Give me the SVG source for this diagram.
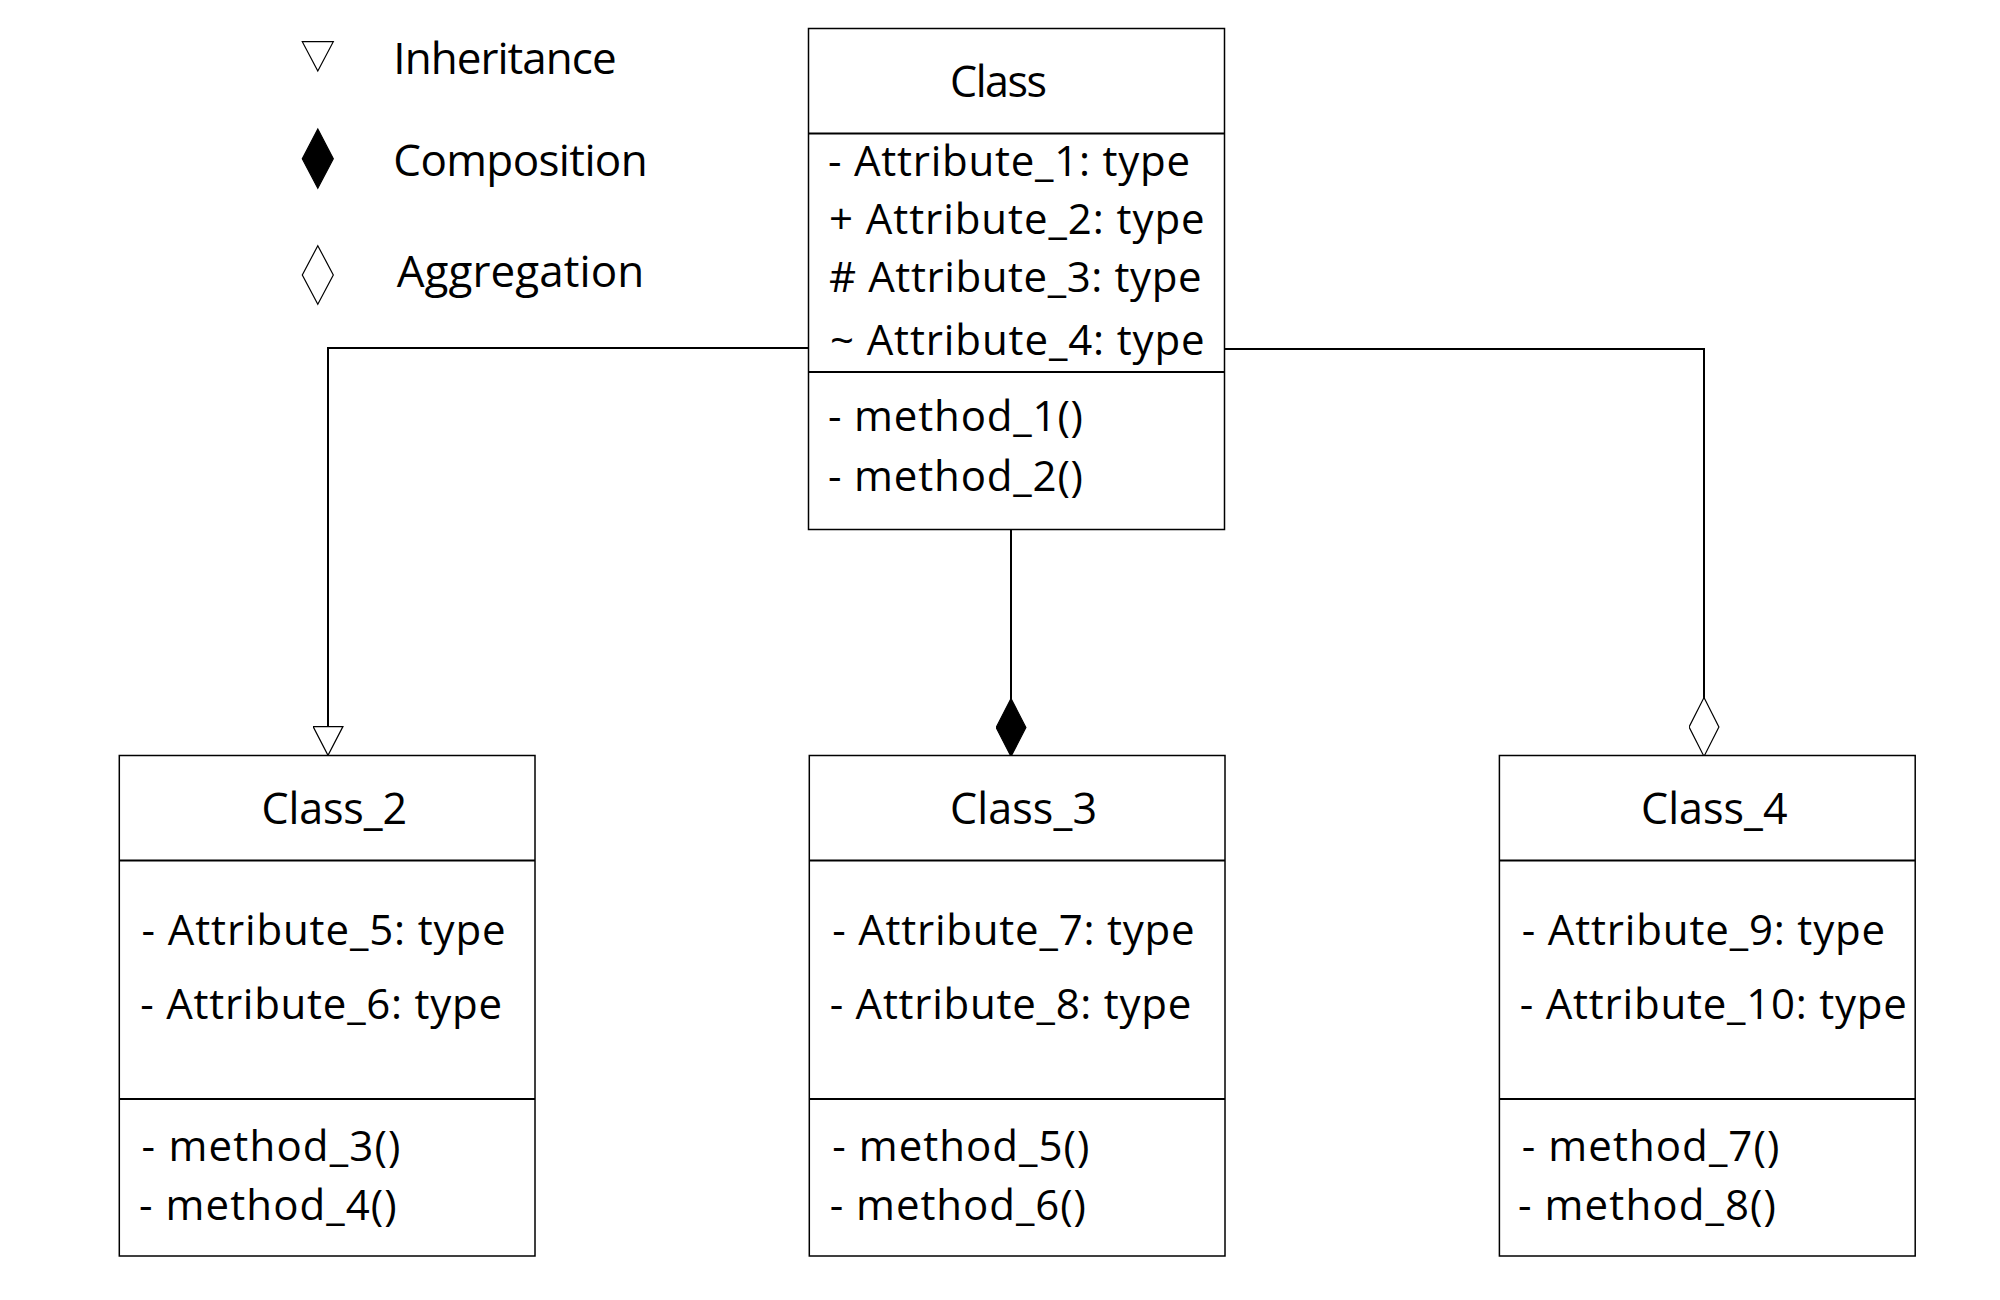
<svg xmlns="http://www.w3.org/2000/svg" width="2000" height="1300" viewBox="0 0 2000 1300">
  <style>
    .bg { fill: #ffffff; }
    .box { fill: #ffffff; stroke: #000000; stroke-width: 1.5; }
    .div { stroke: #000000; stroke-width: 2; }
    .conn { fill: none; stroke: #000000; stroke-width: 2; }
    .sym { stroke: #000000; stroke-width: 1.2; stroke-linejoin: miter; }
    .hollow { fill: #ffffff; }
    .solid { fill: #000000; }
    text { font-family: "Open Sans", "Noto Sans", "Liberation Sans", sans-serif; fill: #000000; }
    .legend { font-size: 44px; }
    .title { font-size: 43px; }
    .item { font-size: 42px; }
  </style>
  <defs>
    <marker id="m-inherit" viewBox="0 0 30 31" refX="30" refY="15.5" markerWidth="30" markerHeight="31" markerUnits="userSpaceOnUse" orient="auto">
      <path d="M0.6,0.6 L29.4,15.5 L0.6,30.4 Z" fill="#ffffff" stroke="#000000" stroke-width="1.2"/>
    </marker>
    <marker id="m-compose" viewBox="0 0 59 31" refX="59" refY="15.5" markerWidth="59" markerHeight="31" markerUnits="userSpaceOnUse" orient="auto">
      <path d="M0.6,15.5 L29.5,0.6 L58.4,15.5 L29.5,30.4 Z" fill="#000000" stroke="#000000" stroke-width="1.2"/>
    </marker>
    <marker id="m-aggregate" viewBox="0 0 60 31" refX="60" refY="15.5" markerWidth="60" markerHeight="31" markerUnits="userSpaceOnUse" orient="auto">
      <path d="M0.6,15.5 L30,0.6 L59.4,15.5 L30,30.4 Z" fill="#ffffff" stroke="#000000" stroke-width="1.2"/>
    </marker>
  </defs>

  <rect class="bg" x="0" y="0" width="2000" height="1300"/>

  <g id="legend">
    <polygon class="sym hollow" points="302.3,41.7 333.3,41.7 317.8,71"/>
    <text class="legend" x="393.3" y="74" textLength="223.4" lengthAdjust="spacing">Inheritance</text>
    <polygon class="sym solid" points="317.8,129 333.3,158.7 317.8,188.3 302.3,158.7"/>
    <text class="legend" x="393.3" y="175.7" textLength="254.4" lengthAdjust="spacing">Composition</text>
    <polygon class="sym hollow" points="317.8,245.7 333.3,275 317.8,304.3 302.3,275"/>
    <text class="legend" x="396.7" y="287.3" textLength="247.6" lengthAdjust="spacing">Aggregation</text>
  </g>

  <g id="connectors">
    <path class="conn" d="M808.5,348 H328 V756" marker-end="url(#m-inherit)"/>
    <path class="conn" d="M1011,529.5 V757" marker-end="url(#m-compose)"/>
    <path class="conn" d="M1224.5,349 H1704 V757" marker-end="url(#m-aggregate)"/>
  </g>

  <g id="class">
    <rect class="box" x="808.5" y="28.5" width="416" height="501"/>
    <line class="div" x1="808.5" y1="133.5" x2="1224.5" y2="133.5"/>
    <line class="div" x1="808.5" y1="372" x2="1224.5" y2="372"/>
    <text class="title" x="950" y="97.3" textLength="97" lengthAdjust="spacing">Class</text>
    <text class="item" x="828" y="176" textLength="362" lengthAdjust="spacing">- Attribute_1: type</text>
    <text class="item" x="829" y="233.5" textLength="375.7" lengthAdjust="spacing">+ Attribute_2: type</text>
    <text class="item" x="829" y="291.5" textLength="372.5" lengthAdjust="spacing"># Attribute_3: type</text>
    <text class="item" x="830" y="354.5" textLength="374.7" lengthAdjust="spacing">~ Attribute_4: type</text>
    <text class="item" x="828" y="431" textLength="255" lengthAdjust="spacing">- method_1()</text>
    <text class="item" x="828" y="491" textLength="255" lengthAdjust="spacing">- method_2()</text>
  </g>

  <g id="class_2">
    <rect class="box" x="119.3" y="755.5" width="415.7" height="500.5"/>
    <line class="div" x1="119.3" y1="860.5" x2="535" y2="860.5"/>
    <line class="div" x1="119.3" y1="1099" x2="535" y2="1099"/>
    <text class="title" x="261.5" y="824" textLength="145.5" lengthAdjust="spacing">Class_2</text>
    <text class="item" x="141.6" y="945" textLength="364.1" lengthAdjust="spacing">- Attribute_5: type</text>
    <text class="item" x="140.3" y="1019" textLength="361.7" lengthAdjust="spacing">- Attribute_6: type</text>
    <text class="item" x="141.6" y="1161" textLength="258.9" lengthAdjust="spacing">- method_3()</text>
    <text class="item" x="139" y="1220" textLength="257.7" lengthAdjust="spacing">- method_4()</text>
  </g>

  <g id="class_3">
    <rect class="box" x="809.3" y="755.5" width="415.7" height="500.5"/>
    <line class="div" x1="809.3" y1="860.5" x2="1225" y2="860.5"/>
    <line class="div" x1="809.3" y1="1099" x2="1225" y2="1099"/>
    <text class="title" x="950" y="824" textLength="147" lengthAdjust="spacing">Class_3</text>
    <text class="item" x="832.3" y="945" textLength="362.2" lengthAdjust="spacing">- Attribute_7: type</text>
    <text class="item" x="829.7" y="1019" textLength="361.6" lengthAdjust="spacing">- Attribute_8: type</text>
    <text class="item" x="832.3" y="1161" textLength="257" lengthAdjust="spacing">- method_5()</text>
    <text class="item" x="829.7" y="1220" textLength="256.3" lengthAdjust="spacing">- method_6()</text>
  </g>

  <g id="class_4">
    <rect class="box" x="1499.4" y="755.5" width="415.8" height="500.5"/>
    <line class="div" x1="1499.4" y1="860.5" x2="1915.2" y2="860.5"/>
    <line class="div" x1="1499.4" y1="1099" x2="1915.2" y2="1099"/>
    <text class="title" x="1641" y="824" textLength="146.6" lengthAdjust="spacing">Class_4</text>
    <text class="item" x="1521.7" y="945" textLength="363.5" lengthAdjust="spacing">- Attribute_9: type</text>
    <text class="item" x="1519.8" y="1019" textLength="387.1" lengthAdjust="spacing">- Attribute_10: type</text>
    <text class="item" x="1521.7" y="1161" textLength="257.6" lengthAdjust="spacing">- method_7()</text>
    <text class="item" x="1517.9" y="1220" textLength="258.1" lengthAdjust="spacing">- method_8()</text>
  </g>
</svg>
